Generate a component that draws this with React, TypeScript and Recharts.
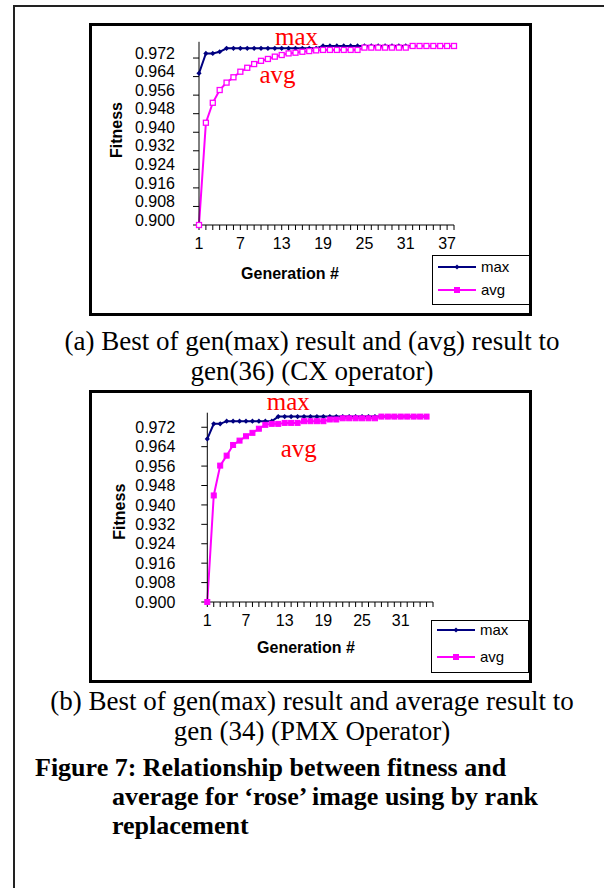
import React from 'react'
import { LineChart, Line, XAxis, YAxis, Legend } from 'recharts'

const SANS = "'Liberation Sans', Arial, sans-serif"
const SERIF = "'Liberation Serif', 'Times New Roman', serif"
const NAVY = '#000080'
const PINK = '#FF00FF'

const seriesOrder = ['max', 'avg']
const yTicks = [0.9, 0.908, 0.916, 0.924, 0.932, 0.94, 0.948, 0.956, 0.964, 0.972]

// (a) CX operator
const gensA = [1, 2, 3, 4, 5, 6, 7, 8, 9, 10, 11, 12, 13, 14, 15, 16, 17, 18, 19, 20,
  21, 22, 23, 24, 25, 26, 27, 28, 29, 30, 31, 32, 33, 34, 35, 36, 37, 38]
const xLabelsA = [1, 7, 13, 19, 25, 31, 37]
const maxA = [0.9654, 0.974, 0.974, 0.9747, 0.9762, 0.9762, 0.9762, 0.9762, 0.9762, 0.9762,
  0.9762, 0.9762, 0.9762, 0.9762, 0.9762, 0.9762, 0.9762, 0.9762, 0.9772, 0.9772,
  0.9772, 0.9772, 0.9772, 0.9772, 0.9772, 0.9772, 0.9772, 0.9772, 0.9772, 0.9772,
  0.9772, 0.9772, 0.9772, 0.9772, 0.9772, 0.9772, 0.9772, 0.9772]
const avgA = [0.9, 0.9441, 0.9527, 0.9582, 0.9614, 0.9637, 0.9661, 0.9678, 0.9694, 0.9708,
  0.9716, 0.9726, 0.9733, 0.974, 0.9743, 0.9747, 0.975, 0.9753, 0.9755, 0.9755,
  0.9755, 0.9755, 0.9755, 0.9755, 0.9765, 0.9765, 0.9765, 0.9765, 0.9765, 0.9765,
  0.9765, 0.9772, 0.9772, 0.9772, 0.9772, 0.9772, 0.9772, 0.9772]

// (b) PMX operator
const gensB = [1, 2, 3, 4, 5, 6, 7, 8, 9, 10, 11, 12, 13, 14, 15, 16, 17, 18, 19, 20,
  21, 22, 23, 24, 25, 26, 27, 28, 29, 30, 31, 32, 33, 34, 35]
const tickGensB = [...gensB, 36]
const xLabelsB = [1, 7, 13, 19, 25, 31]
const maxB = [0.9672, 0.9734, 0.9734, 0.9745, 0.9745, 0.9745, 0.9745, 0.9745, 0.9745, 0.9745,
  0.9745, 0.9764, 0.9764, 0.9764, 0.9764, 0.9764, 0.9764, 0.9764, 0.9764, 0.9764,
  0.9764, 0.9764, 0.9764, 0.9764, 0.9764, 0.9764, 0.9764, 0.9764, 0.9764, 0.9764,
  0.9764, 0.9764, 0.9764, 0.9764, 0.9764]
const avgB = [0.9, 0.9439, 0.9562, 0.9603, 0.9647, 0.9665, 0.9683, 0.9697, 0.9714, 0.973,
  0.9734, 0.9734, 0.9738, 0.9738, 0.9738, 0.9745, 0.9745, 0.9745, 0.9745, 0.9752,
  0.9752, 0.9757, 0.9757, 0.9757, 0.9757, 0.9757, 0.9757, 0.9764, 0.9764, 0.9764,
  0.9764, 0.9764, 0.9764, 0.9764, 0.9764]

const rowsA = gensA.map((g, i) => ({ gen: g, max: maxA[i], avg: avgA[i] }))
const rowsB = gensB.map((g, i) => ({ gen: g, max: maxB[i], avg: avgB[i] }))

function Diamond({ cx, cy }: { cx: number; cy: number }) {
  if (cx == null || cy == null) return <g />
  return <path d={`M${cx},${cy - 2.6}L${cx + 2.6},${cy}L${cx},${cy + 2.6}L${cx - 2.6},${cy}Z`} fill={NAVY} />
}
function Square({ cx, cy, hollow }: { cx: number; cy: number; hollow: boolean }) {
  if (cx == null || cy == null) return <g />
  return <rect x={cx - 2.5} y={cy - 2.5} width={5} height={5}
    fill={hollow ? '#fff' : PINK} stroke={PINK} strokeWidth={hollow ? 1.3 : 1} />
}

function LegendBox({ payload, rowY, height }: { payload?: any[]; rowY: number[]; height: number }) {
  // recharts sorts legend items by name; keep the series order instead
  const items = [...(payload ?? [])].sort((a, b) => seriesOrder.indexOf(a.dataKey) - seriesOrder.indexOf(b.dataKey))
  return (
    <div style={{ width: 98, height, border: '1px solid #000', boxSizing: 'border-box', background: '#fff', position: 'relative' }}>
      {items.map((item, i) => (
        <div key={item.value} style={{ position: 'absolute', left: 5, top: rowY[i] - 9, height: 18, display: 'flex', alignItems: 'center' }}>
          <svg width={38} height={10}>
            <line x1={0} y1={5} x2={38} y2={5} stroke={item.color} strokeWidth={2} />
            {item.dataKey === 'max' ? <Diamond cx={19} cy={5} /> : <Square cx={19} cy={5} hollow={false} />}
          </svg>
          <span style={{ marginLeft: 5, fontFamily: SANS, fontSize: 15, color: '#000', lineHeight: '18px' }}>{item.value}</span>
        </div>
      ))}
    </div>
  )
}

type ChartProps = {
  rows: { gen: number; max: number; avg: number }[]
  xTicks: number[]
  xLabels: number[]
  xMax: number
  yMax: number
  height: number
  margin: { top: number; right: number; bottom: number; left: number }
  yTickMargin: number
  yLabelShift: number
  hollowAvg: boolean
  legendLeft: number
  legendTop: number
  legendHeight: number
  legendRows: number[]
}

function FitnessChart(p: ChartProps) {
  return (
    <LineChart width={437} height={p.height} data={p.rows} margin={p.margin}>
      <XAxis dataKey="gen" type="number" domain={[1, p.xMax]} ticks={p.xTicks} interval={0}
        height={30} tickSize={5} tickMargin={8} stroke="#000"
        tick={(t: any) => p.xLabels.includes(t.payload.value)
          ? <text x={t.x} y={t.y} dy="0.71em" textAnchor="middle" fontFamily={SANS} fontSize={16} fill="#000">{t.payload.value}</text>
          : <g />} />
      <YAxis type="number" domain={[0.9, p.yMax]} ticks={yTicks} interval={0} width={60}
        tickSize={6} tickMargin={p.yTickMargin} stroke="#000"
        tick={(t: any) => <text x={t.x} y={t.y + p.yLabelShift} dy="0.355em" textAnchor="end" fontFamily={SANS} fontSize={16} fill="#000">{t.payload.value.toFixed(3)}</text>} />
      <Line dataKey="max" name="max" stroke={NAVY} strokeWidth={2} isAnimationActive={false} activeDot={false}
        dot={(d: any) => <Diamond key={`m${d.index}`} cx={d.cx} cy={d.cy} />} />
      <Line dataKey="avg" name="avg" stroke={PINK} strokeWidth={2} isAnimationActive={false} activeDot={false}
        dot={(d: any) => <Square key={`a${d.index}`} cx={d.cx} cy={d.cy} hollow={p.hollowAvg} />} />
      <Legend layout="vertical" align="center" verticalAlign="middle"
        wrapperStyle={{ left: p.legendLeft, top: p.legendTop, width: 98, height: p.legendHeight }}
        content={(lp: any) => <LegendBox payload={lp.payload} rowY={p.legendRows} height={p.legendHeight} />} />
    </LineChart>
  )
}

const boxStyle = (top: number, height: number): React.CSSProperties => ({
  position: 'absolute', left: 89, top, width: 443, height, border: '3px solid #000', boxSizing: 'border-box', background: '#fff',
})

const captionStyle = (top: number): React.CSSProperties => ({
  position: 'absolute', top, left: 20, width: 584, textAlign: 'center', whiteSpace: 'nowrap',
  fontFamily: SERIF, fontSize: 27, lineHeight: '30px', color: '#000',
})

export default function App() {
  return (
    <div style={{ position: 'absolute', left: 0, top: 0, width: 604, height: 888, background: '#fff', overflow: 'hidden' }}>
      <div style={{ position: 'absolute', left: 13, top: 5, width: 591, height: 2, background: '#222' }} />
      <div style={{ position: 'absolute', left: 13, top: 5, width: 2, height: 883, background: '#222' }} />

      <div style={boxStyle(23, 293)}>
        <FitnessChart rows={rowsA} xTicks={gensA} xLabels={xLabelsA} xMax={38} yMax={0.979} height={287}
          margin={{ top: 15.8, right: 75, bottom: 58, left: 47 }} yTickMargin={18} yLabelShift={-5} hollowAvg
          legendLeft={340} legendTop={229} legendHeight={50} legendRows={[10.7, 34]} />
      </div>

      <div style={captionStyle(326)}>
        (a) Best of gen(max) result and (avg) result to<br />gen(36) (CX operator)
      </div>

      <div style={boxStyle(390, 293)}>
        <FitnessChart rows={rowsB} xTicks={tickGensB} xLabels={xLabelsB} xMax={36} yMax={0.978} height={287}
          margin={{ top: 19.7, right: 96, bottom: 48, left: 55.3 }} yTickMargin={26} yLabelShift={0} hollowAvg={false}
          legendLeft={339} legendTop={227} legendHeight={53} legendRows={[9, 35.7]} />
      </div>

      <div style={captionStyle(686)}>
        (b) Best of gen(max) result and average result to<br />gen (34) (PMX Operator)
      </div>

      <div style={{
        position: 'absolute', top: 753, left: 35, width: 565, paddingLeft: 77, textIndent: -77, boxSizing: 'border-box',
        whiteSpace: 'nowrap', fontFamily: SERIF, fontSize: 26, lineHeight: '29px', fontWeight: 'bold', color: '#000',
      }}>
        Figure 7: Relationship between fitness and<br />average for ‘rose’ image using by rank<br />replacement
      </div>

      <svg width={604} height={888} style={{ position: 'absolute', left: 0, top: 0, pointerEvents: 'none' }}>
        <g fontFamily={SANS} fontSize={16} fontWeight="bold" fill="#000" textAnchor="middle">
          <text x={116.7} y={130} dy="0.35em" transform="rotate(-90 116.7 130)">Fitness</text>
          <text x={290} y={273} dy="0.35em">Generation #</text>
          <text x={119} y={511.7} dy="0.35em" transform="rotate(-90 119 511.7)">Fitness</text>
          <text x={306} y={647.3} dy="0.35em">Generation #</text>
        </g>
        <g fontFamily={SERIF} fontSize={25} fill="#FF0000" textAnchor="middle">
          <text x={296.5} y={45}>max</text>
          <text x={277.5} y={83}>avg</text>
          <text x={288.3} y={410}>max</text>
          <text x={298.7} y={457}>avg</text>
        </g>
      </svg>
    </div>
  )
}
